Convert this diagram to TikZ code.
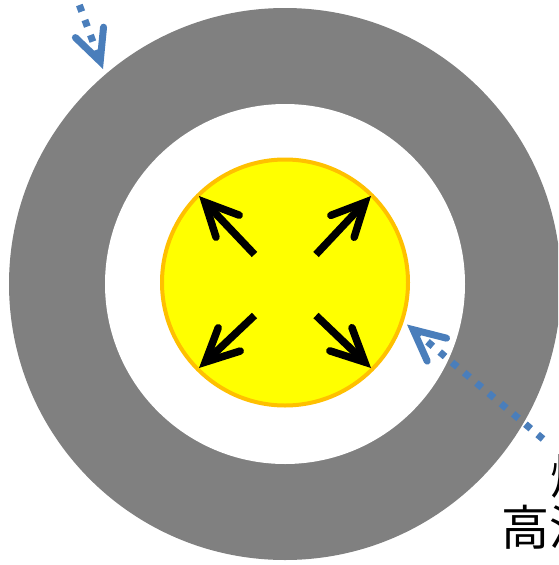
\documentclass[tikz,border=0pt]{standalone}
\usepackage{fontspec}
\newfontfamily\cjk{Noto Sans CJK JP}
\usetikzlibrary{arrows.meta}
\definecolor{ringgray}{HTML}{808080}
\definecolor{pellet}{HTML}{FFFF00}
\definecolor{pelletedge}{HTML}{FFC000}
\definecolor{pointer}{HTML}{4A7EBB}
\tikzset{
  expand/.style={line width=7.5pt, black,
    -{Straight Barb[length=33pt, width=32pt, line cap=round, line join=miter]}},
  pointarrow/.style={line width=7pt, pointer, dash pattern=on 7pt off 9pt,
    -{Straight Barb[length=31pt, width=30pt, line cap=round, line join=miter, sep=0pt]}},
  label/.style={inner sep=0pt, font=\cjk\fontsize{48pt}{50pt}\selectfont, anchor=base west}
}
\begin{document}
\begin{tikzpicture}[x=1pt, y=-1pt]
  \useasboundingbox (0,0) rectangle (558,565);
  \clip (0,0) rectangle (558,565);
  % cladding ring
  \fill[ringgray] (285,284) circle (276);
  \fill[white] (285,284) circle (180);
  % pellet
  \filldraw[fill=pellet, draw=pelletedge, line width=4pt] (285,282.5) circle (123);
  % expansion arrows
  \coordinate (c1) at (254.5,254.5);
  \coordinate (t1) at (199,196);
  \coordinate (c2) at (316,254.5);
  \coordinate (t2) at (371,196);
  \coordinate (c3) at (254.5,315.5);
  \coordinate (t3) at (199,368);
  \coordinate (c4) at (316,315.5);
  \coordinate (t4) at (371,368);
  \draw[expand] (c1) -- (t1);
  \draw[expand] (c2) -- (t2);
  \draw[expand] (c3) -- (t3);
  \draw[expand] (c4) -- (t4);
  % pointer arrows
  \coordinate (p1s) at (73.8,-10);
  \coordinate (p1e) at (103,69);
  \coordinate (p2s) at (543,439);
  \coordinate (p2e) at (407,324.5);
  \draw[pointarrow] (p1s) -- (p1e);
  \draw[pointarrow] (p2s) -- (p2e);
  % labels
  \node[label] (l1) at (550,494) {燃料};
  \node[label] (l2) at (501,545) {高温};
\end{tikzpicture}
\end{document}
